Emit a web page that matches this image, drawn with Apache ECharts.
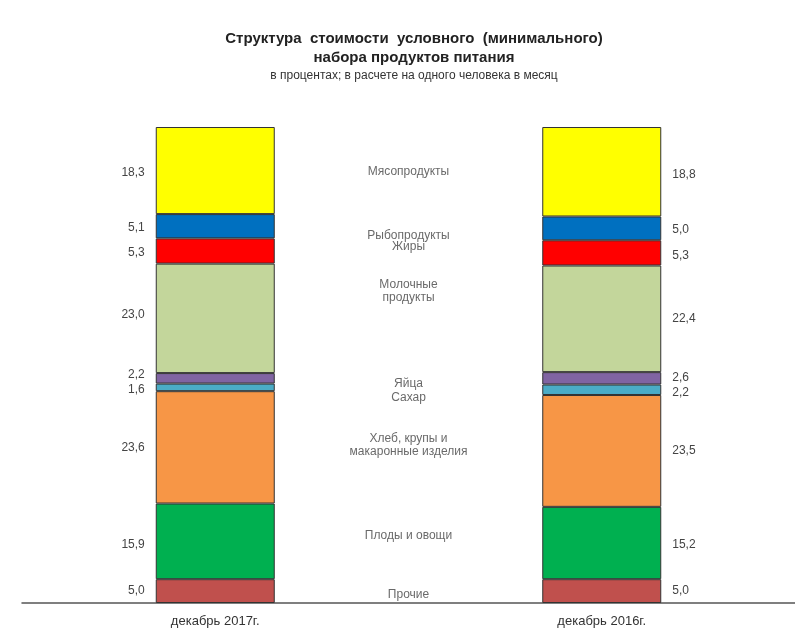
<!DOCTYPE html>
<html>
<head>
<meta charset="utf-8">
<script src="https://cdn.jsdelivr.net/npm/echarts@6/dist/echarts.min.js"></script>
<style>
  html, body { margin: 0; padding: 0; background: #fff; }
  #chart { width: 795px; height: 628px; }
</style>
</head>
<body>
<div id="chart"></div>
<script>
// периоды (столбцы)
const periods = ['декабрь 2017г.', 'декабрь 2016г.'];
// группы продуктов, снизу вверх
const groups = ['Прочие', 'Плоды и овощи', 'Хлеб, крупы и\nмакаронные изделия', 'Сахар', 'Яйца',
  'Молочные\nпродукты', 'Жиры', 'Рыбопродукты', 'Мясопродукты'];
// доли, %
const values2017 = [5.0, 15.9, 23.6, 1.6, 2.2, 23.0, 5.3, 5.1, 18.3];
const values2016 = [5.0, 15.2, 23.5, 2.2, 2.6, 22.4, 5.3, 5.0, 18.8];

const colors = ['#c0504d', '#00b050', '#f79646', '#4bacc6', '#8064a2',
  '#c3d69b', '#ff0000', '#0070c0', '#ffff00'];
// сдвиг подписей по вертикали (px), чтобы не налезали друг на друга
const nameShift = [4, -7, -4, 9, 5, -27, -5, 8, 1];
const leftShift = [0, 3, 0, 2, -4, -4, 2, 1, 2];
const rightShift = [0, 2, 0, 3, -1, 0, 3, 1, 3];

const fmt = v => v.toFixed(1).replace('.', ',');

const chart = echarts.init(document.getElementById('chart'));

// середины сегментов для подписей групп посередине
const mids = groups.map((g, i) => {
  const base17 = values2017.slice(0, i).reduce((a, b) => a + b, 0);
  const base16 = values2016.slice(0, i).reduce((a, b) => a + b, 0);
  return ((base17 + values2017[i] / 2) + (base16 + values2016[i] / 2)) / 2;
});

const labelFont = { fontFamily: 'Liberation Sans, Arial, sans-serif', fontSize: 12, color: '#444' };

const barSeries = groups.map((g, i) => ({
  name: g,
  type: 'bar',
  stack: 'total',
  barWidth: 119,
  xAxisIndex: 0,
  yAxisIndex: 0,
  itemStyle: { color: colors[i], borderColor: '#333', borderWidth: 1 },
  data: [
    { value: values2017[i], label: { show: true, position: 'left', distance: 11, offset: [0, leftShift[i]], formatter: p => fmt(p.value), ...labelFont } },
    { value: values2016[i], label: { show: true, position: 'right', distance: 11, offset: [0, rightShift[i]], formatter: p => fmt(p.value), ...labelFont } }
  ]
}));

const option = {
  animation: false,
  title: {
    text: 'Структура  стоимости  условного  (минимального)\nнабора продуктов питания',
    subtext: 'в процентах; в расчете на одного человека в месяц',
    left: 409,
    top: 24,
    textAlign: 'center',
    itemGap: 3,
    textStyle: { fontFamily: 'Liberation Sans, Arial, sans-serif', fontSize: 15, fontWeight: 'bold', color: '#222', lineHeight: 19 },
    subtextStyle: { fontFamily: 'Liberation Sans, Arial, sans-serif', fontSize: 12, color: '#333' }
  },
  grid: { left: 22, top: 127, right: -4, bottom: 25 },
  xAxis: [
    {
      type: 'category',
      data: periods,
      axisTick: { show: false },
      axisLine: { lineStyle: { color: '#555', width: 1.5 } },
      axisLabel: { fontFamily: 'Liberation Sans, Arial, sans-serif', fontSize: 13, color: '#333', margin: 12 }
    },
    { type: 'value', min: 0, max: 2, show: false }
  ],
  yAxis: [
    { type: 'value', min: 0, max: 100, show: false, splitLine: { show: false } }
  ],
  series: [
    ...barSeries,
    {
      type: 'scatter',
      xAxisIndex: 1,
      yAxisIndex: 0,
      symbolSize: 0,
      silent: true,
      data: groups.map((g, i) => ({
        value: [1, mids[i]],
        label: {
          show: true,
          position: 'inside',
          offset: [0, nameShift[i]],
          formatter: g,
          align: 'center',
          lineHeight: 13,
          ...labelFont
        }
      }))
    }
  ]
};

chart.setOption(option);
</script>
</body>
</html>
